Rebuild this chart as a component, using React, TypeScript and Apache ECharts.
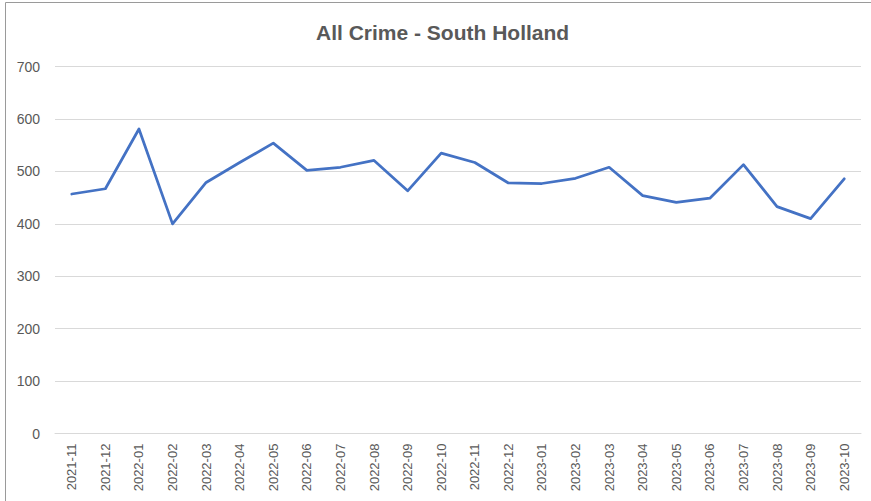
import React, { useEffect, useRef } from "react";
import * as echarts from "echarts";

const categories = [
  "2021-11", "2021-12", "2022-01", "2022-02", "2022-03", "2022-04",
  "2022-05", "2022-06", "2022-07", "2022-08", "2022-09", "2022-10",
  "2022-11", "2022-12", "2023-01", "2023-02", "2023-03", "2023-04",
  "2023-05", "2023-06", "2023-07", "2023-08", "2023-09", "2023-10",
];

const crimeCounts = [
  457, 467, 581, 400, 479, 517,
  554, 502, 508, 521, 463, 535,
  517, 478, 477, 487, 508, 454,
  441, 449, 513, 433, 410, 486,
];

const chartTitle = "All Crime - South Holland";
const yMin = 0;
const yMax = 700;
const yInterval = 100;

export default function App() {
  const ref = useRef<HTMLDivElement>(null);

  useEffect(() => {
    document.body.style.margin = "0";
    if (!ref.current) return;
    const chart = echarts.init(ref.current, undefined, { renderer: "svg" });
    chart.setOption({
      animation: false,
      backgroundColor: "#ffffff",
      title: {
        text: chartTitle,
        left: 311,
        top: 17,
        textStyle: {
          fontFamily: "Liberation Sans",
          fontSize: 21,
          fontWeight: "bold",
          color: "#595959",
        },
      },
      graphic: [
        {
          type: "rect",
          shape: { x: 5.5, y: 2.5, width: 900, height: 520 },
          style: { fill: "none", stroke: "#9a9a9a", lineWidth: 1 },
          silent: true,
          z: 100,
        },
      ],
      grid: { left: 55, right: 10, top: 66.6, bottom: 67.4, containLabel: false },
      xAxis: {
        type: "category",
        data: categories,
        boundaryGap: true,
        axisLine: { show: true, lineStyle: { color: "#d9d9d9", width: 1 } },
        axisTick: { show: false },
        axisLabel: {
          rotate: 90,
          margin: 10,
          interval: 0,
          color: "#595959",
          fontFamily: "Liberation Sans",
          fontSize: 13,
        },
        splitLine: { show: false },
      },
      yAxis: {
        type: "value",
        min: yMin,
        max: yMax,
        interval: yInterval,
        axisLine: { show: false },
        axisTick: { show: false },
        axisLabel: {
          margin: 15,
          color: "#595959",
          fontFamily: "Liberation Sans",
          fontSize: 14,
        },
        splitLine: { show: true, lineStyle: { color: "#d9d9d9", width: 1 } },
      },
      series: [
        {
          type: "line",
          data: crimeCounts,
          symbol: "none",
          lineStyle: { color: "#4472C4", width: 2.75, cap: "round", join: "round" },
          itemStyle: { color: "#4472C4" },
        },
      ],
    });
    return () => chart.dispose();
  }, []);

  return <div ref={ref} style={{ width: 871, height: 501 }} />;
}
